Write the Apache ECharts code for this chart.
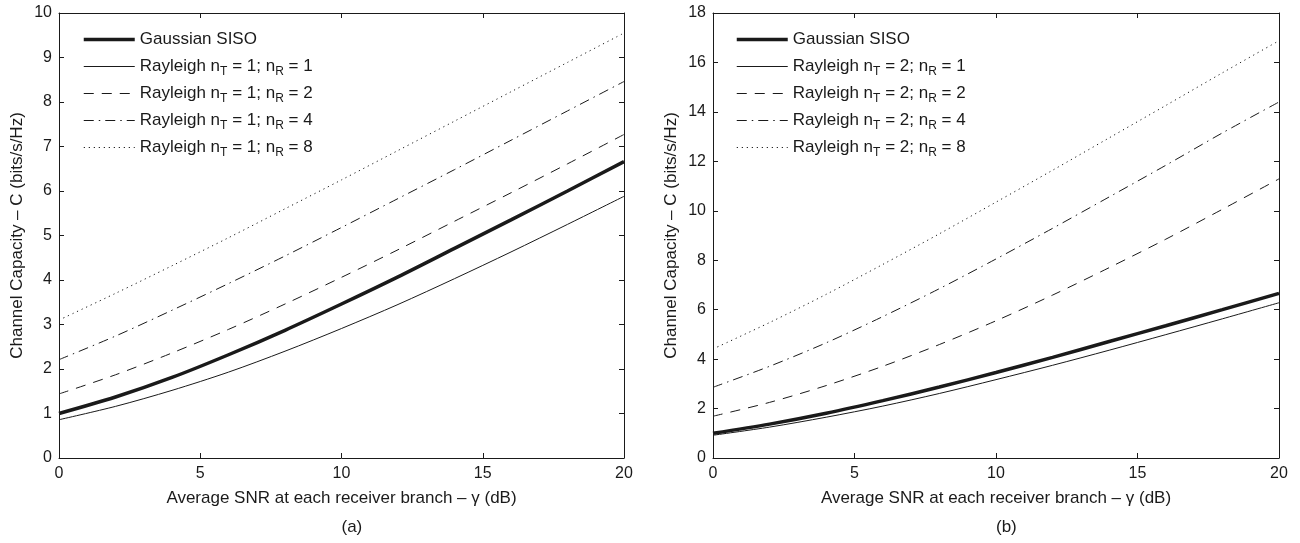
<!DOCTYPE html>
<html>
<head>
<meta charset="utf-8">
<script src="https://cdn.jsdelivr.net/npm/echarts@6/dist/echarts.min.js"></script>
<style>
html,body{margin:0;padding:0;background:#fff;}
#chart{width:1300px;height:543px;}
</style>
</head>
<body>
<div id="chart"></div>
<script>
// ---------- data ----------
const snrDb = [0, 2, 4, 6, 8, 10, 12, 14, 16, 18, 20];
const xTicks = [0, 5, 10, 15, 20];

const gaussianSiso = [1.00, 1.37, 1.81, 2.32, 2.87, 3.46, 4.07, 4.71, 5.35, 6.00, 6.66];

// panel (a): nT = 1
const a_nR1 = [0.86, 1.16, 1.52, 1.93, 2.40, 2.91, 3.45, 4.03, 4.63, 5.25, 5.88];
const a_nR2 = [1.44, 1.87, 2.36, 2.89, 3.46, 4.06, 4.68, 5.32, 5.96, 6.61, 7.27];
const a_nR4 = [2.21, 2.74, 3.32, 3.92, 4.54, 5.18, 5.83, 6.48, 7.14, 7.80, 8.46];
const a_nR8 = [3.10, 3.70, 4.32, 4.95, 5.60, 6.25, 6.91, 7.57, 8.23, 8.89, 9.55];

// panel (b): nT = 2
const b_nR1 = [0.92, 1.25, 1.65, 2.10, 2.61, 3.17, 3.75, 4.36, 4.99, 5.63, 6.28];
const b_nR2 = [1.69, 2.25, 2.93, 3.71, 4.59, 5.55, 6.59, 7.70, 8.85, 10.06, 11.29];
const b_nR4 = [2.86, 3.71, 4.66, 5.72, 6.85, 8.05, 9.29, 10.56, 11.84, 13.15, 14.40];
const b_nR8 = [4.41, 5.48, 6.62, 7.83, 9.07, 10.35, 11.64, 12.95, 14.26, 15.58, 16.88];

const nRValues = [1, 2, 4, 8];
const panelLabels = ['(a)', '(b)'];
const xName = 'Average SNR at each receiver branch \u2013 \u03B3 (dB)';
const yName = 'Channel Capacity \u2013 C (bits/s/Hz)';
const gaussName = 'Gaussian SISO';

// ---------- styling ----------
const FONT = 'Liberation Sans, Arial, Helvetica, sans-serif';
const INK = '#1a1a1a';
const gaussStyle = {width: 3.5, type: 'solid'};
const lineStyles = [
  {width: 1, type: 'solid'},
  {width: 1, type: [10, 8]},
  {width: 1, type: [10, 5, 1.5, 5]},
  {width: 1, type: [1.2, 3.8]}
];

function rayName(nT, nR) { return 'Rayleigh nT = ' + nT + '; nR = ' + nR; }

function pairs(vals) { return snrDb.map((x, i) => [x, vals[i]]); }

const panels = [
  {nT: 1, grid: {left: 59, top: 13, width: 565, height: 445}, ymax: 10, yint: 1, curves: [a_nR1, a_nR2, a_nR4, a_nR8], legendLeft: 82},
  {nT: 2, grid: {left: 713, top: 13, width: 566, height: 445}, ymax: 18, yint: 2, curves: [b_nR1, b_nR2, b_nR4, b_nR8], legendLeft: 735}
];

const grids = [], xAxes = [], yAxes = [], series = [], legends = [], graphics = [];

panels.forEach((p, pi) => {
  grids.push(Object.assign({containLabel: false}, p.grid));
  const tickCommon = {show: true, inside: true, length: 5, lineStyle: {color: INK, width: 1}};
  const lineCommon = {show: true, onZero: false, lineStyle: {color: INK, width: 1}};
  xAxes.push({
    gridIndex: pi, type: 'value', position: 'bottom', min: 0, max: 20, interval: 5,
    axisLine: lineCommon, axisTick: tickCommon, splitLine: {show: false},
    axisLabel: {color: INK, fontFamily: FONT, fontSize: 16, margin: 8},
    name: xName, nameLocation: 'middle', nameGap: 32,
    nameTextStyle: {color: INK, fontFamily: FONT, fontSize: 17}
  });
  xAxes.push({
    gridIndex: pi, type: 'value', position: 'top', min: 0, max: 20, interval: 5,
    axisLine: lineCommon, axisTick: tickCommon, splitLine: {show: false},
    axisLabel: {show: false}
  });
  yAxes.push({
    gridIndex: pi, type: 'value', position: 'left', min: 0, max: p.ymax, interval: p.yint,
    axisLine: lineCommon, axisTick: tickCommon, splitLine: {show: false},
    axisLabel: {color: INK, fontFamily: FONT, fontSize: 16, margin: 7},
    name: yName, nameLocation: 'middle', nameGap: 33,
    nameTextStyle: {color: INK, fontFamily: FONT, fontSize: 17}
  });
  yAxes.push({
    gridIndex: pi, type: 'value', position: 'right', min: 0, max: p.ymax, interval: p.yint,
    axisLine: lineCommon, axisTick: tickCommon, splitLine: {show: false},
    axisLabel: {show: false}
  });

  const legendData = [{name: gaussName, lineStyle: Object.assign({color: INK}, gaussStyle)}];
  series.push({
    name: gaussName, type: 'line', xAxisIndex: pi * 2, yAxisIndex: pi * 2,
    data: pairs(gaussianSiso), smooth: 0.3, symbol: 'none', color: INK,
    lineStyle: Object.assign({color: INK}, gaussStyle), z: 5, silent: true
  });
  p.curves.forEach((vals, ci) => {
    const nm = rayName(p.nT, nRValues[ci]);
    legendData.push({name: nm, lineStyle: Object.assign({color: INK}, lineStyles[ci])});
    series.push({
      name: nm, type: 'line', xAxisIndex: pi * 2, yAxisIndex: pi * 2,
      data: pairs(vals), smooth: 0.3, symbol: 'none', color: INK,
      lineStyle: Object.assign({color: INK}, lineStyles[ci]), silent: true
    });
  });

  legends.push({
    orient: 'vertical', left: p.legendLeft, top: 28, padding: 0,
    itemWidth: 51, itemHeight: 14, itemGap: 4,
    selectedMode: false, data: legendData,
    itemStyle: {opacity: 0},
    textStyle: {
      color: INK, fontFamily: FONT, fontSize: 17, lineHeight: 23,
      rich: {
        t: {fontFamily: FONT, fontSize: 17, color: INK},
        s: {fontFamily: FONT, fontSize: 12, color: INK, padding: [10, 0, 0, 0]}
      }
    },
    formatter: function (name) {
      const m = name.match(/^Rayleigh nT = (\d+); nR = (\d+)$/);
      if (!m) return '{t|' + name + '}';
      return '{t|Rayleigh n}{s|T}{t| = ' + m[1] + '; n}{s|R}{t| = ' + m[2] + '}';
    }
  });

  graphics.push({
    type: 'text', left: p.grid.left + p.grid.width / 2, top: 519,
    style: {text: panelLabels[pi], font: '17px ' + FONT, fill: INK, textAlign: 'center'}
  });
});

const chart = echarts.init(document.getElementById('chart'), null, {renderer: 'canvas'});
chart.setOption({
  backgroundColor: '#fff',
  animation: false,
  grid: grids, xAxis: xAxes, yAxis: yAxes, series: series, legend: legends,
  graphic: graphics
});
</script>
</body>
</html>
